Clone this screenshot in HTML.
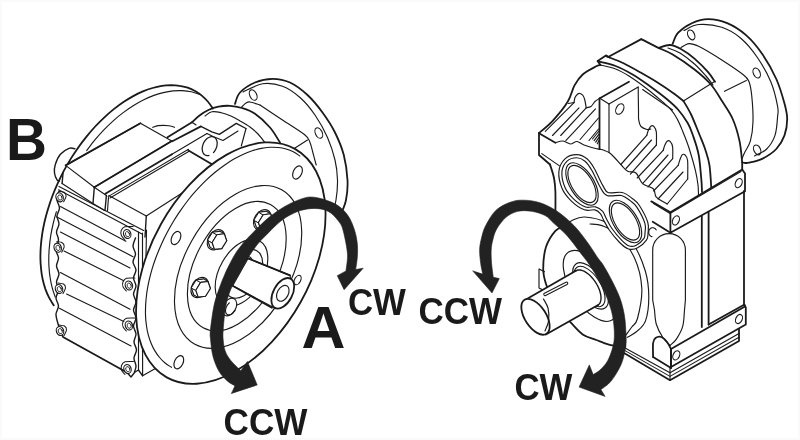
<!DOCTYPE html>
<html><head><meta charset="utf-8"><title>Rotation direction CW / CCW</title>
<style>
html,body{margin:0;padding:0;background:#fff;}
body{width:800px;height:440px;overflow:hidden;}
svg{display:block;will-change:transform;}
svg text{font-family:"Liberation Sans",Arial,Helvetica,sans-serif;font-weight:bold;fill:#1a1a1a;}
svg path,svg ellipse{stroke-linecap:round;stroke-linejoin:round;}
</style></head>
<body>
<svg width="800" height="440" viewBox="0 0 800 440">
<rect x="0" y="0" width="800" height="440" fill="#ffffff"/>
<rect x="1" y="1" width="798" height="438" fill="none" stroke="#fafafa" stroke-width="2"/>
<path d="M74.9 148.8C73.9 148.7 71.4 147.4 69 148.3C66.6 149.2 62.7 151.6 60.4 154.3C58.1 157 56.3 161.4 55.3 164.5C54.3 167.6 54.2 170.4 54.5 173C54.8 175.6 56.2 178.5 57 179.8C57.8 181.1 59.1 180.8 59.5 181" fill="none" stroke="#1a1a1a" stroke-width="1.4" />
<path d="M53.7 305.3C53 304 50.5 300.4 49.1 297.7C47.7 295 46.5 292.1 45.4 289.1C44.4 286.1 43.5 282.9 42.7 279.5C42 276.2 41.4 272.7 41.1 269.1C40.7 265.5 40.4 261.8 40.4 258C40.4 254.2 40.5 250.2 40.8 246.2C41.1 242.2 41.6 238.2 42.2 234C42.8 229.9 43.7 225.7 44.6 221.5C45.6 217.3 46.8 213 48.1 208.8C49.4 204.5 50.8 200.2 52.4 196C54 191.8 55.8 187.5 57.7 183.4C59.6 179.2 61.7 175 63.8 170.9C66 166.9 68.3 162.8 70.7 158.9C73.1 155 75.7 151.1 78.3 147.4C80.9 143.7 83.7 140.1 86.5 136.6C89.3 133.1 92.3 129.7 95.2 126.5C98.2 123.3 101.3 120.2 104.4 117.3C107.5 114.4 110.6 111.7 113.8 109.1C117 106.6 120.2 104.2 123.5 102C126.7 99.8 130 97.9 133.2 96.1C136.5 94.3 139.7 92.7 142.9 91.4C146.2 90 149.4 88.9 152.6 88C155.7 87.1 158.9 86.4 161.9 85.9C165 85.4 168.1 85.2 171 85.1C173.9 85.1 176.8 85.3 179.6 85.8C182.4 86.2 185.1 86.9 187.7 87.7C190.3 88.6 192.7 89.7 195.1 91C197.5 92.4 199.7 93.9 201.8 95.6C203.9 97.4 205.9 99.3 207.8 101.5C209.6 103.6 212 107.3 212.8 108.5" fill="none" stroke="#1a1a1a" stroke-width="1.8" />
<path d="M86.7 150.6C88.1 148.8 92.2 143.2 95.1 139.7C98 136.3 101 132.9 104.1 129.7C107.1 126.5 110.3 123.5 113.5 120.6C116.7 117.7 119.9 115 123.2 112.6C126.5 110.1 129.8 107.8 133.2 105.7C136.5 103.6 139.9 101.7 143.3 100C146.6 98.3 150 96.8 153.3 95.6C156.7 94.4 160 93.4 163.3 92.6C166.6 91.8 169.8 91.2 173 90.9C176.2 90.6 179.3 90.5 182.4 90.6C185.4 90.8 188.4 91.2 191.3 91.8C194.1 92.4 198.2 93.9 199.6 94.3" fill="none" stroke="#1a1a1a" stroke-width="1.15" />
<path d="M55.2 297C54.7 295.5 53.1 291.2 52.3 288.2C51.5 285.1 50.8 281.9 50.3 278.6C49.7 275.3 49.3 271.9 49.1 268.4C48.8 265 48.7 261.4 48.8 257.7C48.8 254.1 49 250.4 49.4 246.6C49.7 242.8 50.2 239 50.8 235.1C51.5 231.3 52.3 227.4 53.2 223.5C54.1 219.6 55.8 213.7 56.4 211.7" fill="none" stroke="#1a1a1a" stroke-width="1.15" />
<path d="M235 103.8C235.8 101.9 236.7 96 240 92.5C243.3 89 249.6 84.8 255 82.5C260.4 80.2 266.7 78.8 272.5 78.8C278.3 78.8 284.2 79.8 290 82.5C295.8 85.2 302.1 90 307.5 95C312.9 100 317.9 106.2 322.5 112.5C327.1 118.8 331.5 125.4 335 132.5C338.5 139.6 341.7 147.1 343.8 155C345.8 162.9 347.1 172.5 347.5 180C347.9 187.5 347.1 194.3 346 200C344.9 205.7 341.8 211.7 341 214" fill="none" stroke="#1a1a1a" stroke-width="1.8" />
<path d="M243 92C246.2 90.6 255.9 84.7 262.5 83.8C269.1 82.8 276.2 84 282.5 86.2C288.8 88.5 294.6 92.7 300 97.5C305.4 102.3 310.4 108.3 315 115C319.6 121.7 324.2 130 327.5 137.5C330.8 145 333.3 152.9 335 160C336.7 167.1 337.3 173.3 337.5 180C337.7 186.7 336.8 194.7 336 200C335.2 205.3 333.5 210 333 212" fill="none" stroke="#1a1a1a" stroke-width="1.15" />
<ellipse cx="253.2" cy="95" rx="3.4" ry="5.6" transform="rotate(-25 253.2 95)" fill="none" stroke="#1a1a1a" stroke-width="1.15"/>
<ellipse cx="318.8" cy="133" rx="3.4" ry="5.6" transform="rotate(-25 318.8 133)" fill="none" stroke="#1a1a1a" stroke-width="1.15"/>
<ellipse cx="297.5" cy="172.5" rx="3.4" ry="5.6" transform="rotate(-25 297.5 172.5)" fill="none" stroke="#1a1a1a" stroke-width="1.15"/>
<path d="M241.2 107.5C242 106.8 244.5 103.9 246 103C247.5 102.1 247.7 101.7 250 102C252.3 102.3 258.3 104.5 260 105" fill="none" stroke="#1a1a1a" stroke-width="1.15" />
<path d="M260 105C263.8 107.5 275 115 282.5 120C290 125 300.4 131.2 305 135C309.6 138.8 308.7 139.5 310 142.5C311.3 145.5 312 149.2 313 153C314 156.8 315.7 163 316.2 165" fill="none" stroke="#1a1a1a" stroke-width="1.15" />
<path d="M293.8 148.8L307.5 140" fill="none" stroke="#1a1a1a" stroke-width="1.15" />
<path d="M192 122.3C193.2 121.2 196.8 117.5 199.5 115.5C202.2 113.5 205.2 111.5 208.4 110C211.6 108.5 215 107.3 218.6 106.6C222.2 105.9 226.1 105.6 230 105.8C233.9 106 237.8 106.7 242 108C246.2 109.3 250.3 110.5 255 113.8C259.7 117 265.8 122.7 270 127.5C274.2 132.3 278.3 140 280 142.5" fill="none" stroke="#1a1a1a" stroke-width="1.8" />
<path d="M205 116C206.1 115.3 209.1 112.3 211.8 111.8C214.5 111.2 218.1 112 221.3 112.7C224.5 113.4 227.8 114.7 230.9 116.1C234 117.5 236.8 119.1 240 120.9C243.2 122.7 247 124.8 250 127C253 129.2 255.3 131.2 258 134C260.7 136.8 264.7 142.3 266 144" fill="none" stroke="#1a1a1a" stroke-width="1.15" />
<path d="M167.5 137.3L192 122.3" fill="none" stroke="#1a1a1a" stroke-width="1.8" />
<path d="M192 122.3L196.1 125" fill="none" stroke="#1a1a1a" stroke-width="1.15" />
<path d="M172.3 141.3L200.9 126.4" fill="none" stroke="#1a1a1a" stroke-width="1.8" />
<path d="M200.9 126.4L211.8 131.8L219.3 134.3L236.3 123.4L246 128.5" fill="none" stroke="#1a1a1a" stroke-width="1.4" />
<path d="M207 133.5L213 136.5L223 140.5L238 131" fill="none" stroke="#1a1a1a" stroke-width="1.15" />
<path d="M246 128.5L241.3 146" fill="none" stroke="#1a1a1a" stroke-width="1.15" />
<path d="M152.7 127.3C153.6 127 156.2 125.9 158 125.6C159.8 125.3 161.8 125.3 163.6 125.3C165.4 125.3 167.2 125.5 169 125.8C170.8 126.1 173.6 127 174.5 127.3" fill="none" stroke="#1a1a1a" stroke-width="1.15" />
<path d="M65.6 165.4L140.4 123.2L171.8 140.9L94.3 187.2Z" fill="#ffffff" stroke="#1a1a1a" stroke-width="1.15" />
<path d="M65.6 165.4L140.4 123.2" fill="none" stroke="#1a1a1a" stroke-width="1.8" />
<path d="M171.8 140.9L94.3 187.2" fill="none" stroke="#1a1a1a" stroke-width="1.8" />
<path d="M94.3 187.2L93 203.5" fill="none" stroke="#1a1a1a" stroke-width="1.4" />
<path d="M63 173.4L62.1 183.5" fill="none" stroke="#1a1a1a" stroke-width="1.4" />
<path d="M62.1 183.5L93 203.5L104.5 210.5" fill="none" stroke="#1a1a1a" stroke-width="1.15" />
<path d="M94.3 187.2L106.4 195.4" fill="none" stroke="#1a1a1a" stroke-width="1.15" />
<path d="M106.4 195.4L105 210.5" fill="none" stroke="#1a1a1a" stroke-width="1.4" />
<path d="M105.3 193.7L172 154.2" fill="none" stroke="#1a1a1a" stroke-width="1.8" />
<path d="M172 154.2L207 133.5" fill="none" stroke="#1a1a1a" stroke-width="1.15" />
<path d="M108 196.6L188.5 149.2" fill="none" stroke="#1a1a1a" stroke-width="1.035" />
<path d="M110 198L189.5 151" fill="none" stroke="#1a1a1a" stroke-width="1.035" />
<path d="M108.5 197.5L107.5 210.5" fill="none" stroke="#1a1a1a" stroke-width="1.15" />
<path d="M188.5 150.5L211.5 164.1" fill="none" stroke="#1a1a1a" stroke-width="1.8" />
<path d="M108.8 195.6L146.3 216" fill="none" stroke="#1a1a1a" stroke-width="1.15" />
<path d="M146.3 216L182.5 192.7" fill="none" stroke="#1a1a1a" stroke-width="1.15" />
<path d="M146.3 216L145 237" fill="none" stroke="#1a1a1a" stroke-width="1.4" />
<path d="M208.9 155.5C208.7 155.5 208.3 155.6 208.1 155.6C207.8 155.6 207.6 155.6 207.3 155.6C207.1 155.6 206.8 155.6 206.6 155.5C206.3 155.5 206.1 155.4 205.9 155.3C205.6 155.2 205.4 155.1 205.2 155C205 154.9 204.8 154.8 204.6 154.6C204.4 154.5 204.2 154.3 204.1 154.1C203.9 154 203.7 153.8 203.6 153.6C203.4 153.3 203.3 153.1 203.1 152.9C203 152.7 202.9 152.4 202.8 152.1C202.7 151.9 202.6 151.6 202.5 151.3C202.5 151 202.4 150.8 202.4 150.5C202.3 150.2 202.3 149.8 202.2 149.5C202.2 149.2 202.2 148.9 202.2 148.6C202.2 148.2 202.3 147.9 202.3 147.6C202.3 147.3 202.4 146.9 202.4 146.6C202.5 146.2 202.6 145.9 202.7 145.6C202.8 145.2 202.9 144.9 203 144.6C203.1 144.2 203.2 143.9 203.4 143.6C203.5 143.3 203.7 142.9 203.8 142.6C204 142.3 204.2 142 204.4 141.7C204.5 141.4 204.7 141.1 204.9 140.8C205.2 140.5 205.4 140.3 205.6 140C205.8 139.8 206 139.5 206.3 139.3C206.5 139 206.8 138.8 207 138.6C207.2 138.4 207.5 138.2 207.8 138C208 137.9 208.3 137.7 208.5 137.5C208.8 137.4 209.1 137.3 209.3 137.2C209.6 137 209.8 136.9 210.1 136.9C210.4 136.8 210.6 136.7 210.9 136.7C211.2 136.6 211.4 136.6 211.7 136.6C211.9 136.6 212.2 136.6 212.4 136.6C212.7 136.7 212.9 136.7 213.2 136.8C213.4 136.8 213.6 136.9 213.8 137C214.1 137.1 214.3 137.2 214.5 137.3C214.7 137.5 214.9 137.6 215.1 137.8C215.2 137.9 215.4 138.1 215.6 138.3C215.7 138.5 215.9 138.7 216 138.9C216.2 139.2 216.3 139.4 216.4 139.6C216.5 139.9 216.6 140.2 216.7 140.4C216.8 140.7 216.9 141 217 141.3C217 141.6 217.1 141.9 217.1 142.2C217.1 142.5 217.2 142.8 217.2 143.1C217.2 143.4 217.2 143.8 217.1 144.1C217.1 144.4 217.1 144.7 217 145.1C217 145.4 216.9 145.8 216.9 146.1C216.8 146.4 216.7 146.8 216.6 147.1C216.5 147.4 216.4 147.8 216.2 148.1C216.1 148.4 216 148.8 215.8 149.1C215.7 149.4 215.5 149.7 215.3 150C215.2 150.3 215 150.6 214.8 150.9C214.6 151.2 214.4 151.5 214.2 151.8C213.9 152 213.6 152.4 213.5 152.5" fill="none" stroke="#1a1a1a" stroke-width="1.265" />
<path d="M59 186.4L143.6 230.5" fill="none" stroke="#1a1a1a" stroke-width="1.15" />
<path d="M58.5 189.8L142 234" fill="none" stroke="#1a1a1a" stroke-width="1.15" />
<path d="M60.4 206.6L125.9 241.3" fill="none" stroke="#1a1a1a" stroke-width="1.15" />
<path d="M56.4 216.8L133 256.7" fill="none" stroke="#1a1a1a" stroke-width="1.15" />
<path d="M60.4 232.1L130 267.9" fill="none" stroke="#1a1a1a" stroke-width="1.15" />
<path d="M64 251L123.8 280.7" fill="none" stroke="#1a1a1a" stroke-width="1.15" />
<path d="M60.4 272.5L130 309.3" fill="none" stroke="#1a1a1a" stroke-width="1.15" />
<path d="M66.6 294L123.8 321.5" fill="none" stroke="#1a1a1a" stroke-width="1.15" />
<path d="M59.4 308.3L131 346" fill="none" stroke="#1a1a1a" stroke-width="1.15" />
<path d="M58.5 192C58.2 193.3 56.8 197.3 57 200C57.2 202.7 59.5 205.3 59.5 208C59.5 210.7 57.1 213.3 57 216C56.9 218.7 59.1 221.3 59 224C58.9 226.7 56.6 229.3 56.5 232C56.4 234.7 58.6 237 58.5 240C58.4 243 56 247 56 250C56 253 58.4 255.3 58.5 258C58.6 260.7 56.4 263.3 56.5 266C56.6 268.7 59 271.3 59 274C59 276.7 56.6 279.3 56.5 282C56.4 284.7 58.6 287.3 58.5 290C58.4 292.7 56 295.3 56 298C56 300.7 58.5 303.3 58.5 306C58.5 308.7 56.2 311.3 56 314C55.8 316.7 56.8 319.3 57.5 322C58.2 324.7 59.6 328.7 60 330" fill="none" stroke="#1a1a1a" stroke-width="1.4" />
<path d="M135.5 238C135.1 239.3 133 243.3 133 246C133 248.7 135.5 251.3 135.5 254C135.5 256.7 132.9 259.3 133 262C133.1 264.7 135.9 267.3 136 270C136.1 272.7 133.5 275.3 133.5 278C133.5 280.7 136 283.3 136 286C136 288.7 133.5 291.3 133.5 294C133.5 296.7 136 299.3 136 302C136 304.7 133.5 307.3 133.5 310C133.5 312.7 136 315.3 136 318C136 320.7 133.5 323.3 133.5 326C133.5 328.7 135.9 331.3 136 334C136.1 336.7 133.9 339.3 134 342C134.1 344.7 136.5 347.3 136.5 350C136.5 352.7 134.1 355.3 134 358C133.9 360.7 135.9 363.7 136 366C136.1 368.3 134.8 371 134.5 372" fill="none" stroke="#1a1a1a" stroke-width="1.4" />
<path d="M60 330L63 337L127 372.5" fill="none" stroke="#1a1a1a" stroke-width="1.8" />
<path d="M138.5 232L138.5 370" fill="none" stroke="#1a1a1a" stroke-width="1.15" />
<path d="M142.5 233L142.5 352" fill="none" stroke="#1a1a1a" stroke-width="1.15" />
<path d="M146.5 230L146 256" fill="none" stroke="#1a1a1a" stroke-width="1.15" />
<path d="M142.6 350.2L142.6 375.8L154.5 369" fill="none" stroke="#1a1a1a" stroke-width="1.15" />
<path d="M127 372.5L131 377L135 372L138.5 370L142.6 375.8" fill="none" stroke="#1a1a1a" stroke-width="1.4" />
<path d="M58.6 191.3C59.5 191.5 62.8 191.5 64.1 192.3C65.3 193.1 66.2 194.7 66.1 196.3C66 197.9 64 200.9 63.6 201.8" fill="none" stroke="#1a1a1a" stroke-width="1.035" />
<ellipse cx="59.6" cy="197.3" rx="3.6" ry="4.6" transform="rotate(-20 59.6 197.3)" fill="#ffffff" stroke="#1a1a1a" stroke-width="1.15"/>
<ellipse cx="59.9" cy="197.5" rx="2" ry="2.7" transform="rotate(-20 59.9 197.5)" fill="none" stroke="#1a1a1a" stroke-width="0.8049999999999999"/>
<path d="M56.7 241.7C57.6 241.9 61 241.9 62.2 242.7C63.5 243.5 64.3 245.1 64.2 246.7C64.1 248.3 62.1 251.3 61.7 252.2" fill="none" stroke="#1a1a1a" stroke-width="1.035" />
<ellipse cx="57.7" cy="247.7" rx="3.6" ry="4.6" transform="rotate(-20 57.7 247.7)" fill="#ffffff" stroke="#1a1a1a" stroke-width="1.15"/>
<ellipse cx="58" cy="247.9" rx="2" ry="2.7" transform="rotate(-20 58 247.9)" fill="none" stroke="#1a1a1a" stroke-width="0.8049999999999999"/>
<path d="M58 283C58.9 283.2 62.2 283.2 63.5 284C64.8 284.8 65.6 286.4 65.5 288C65.4 289.6 63.4 292.6 63 293.5" fill="none" stroke="#1a1a1a" stroke-width="1.035" />
<ellipse cx="59" cy="289" rx="3.6" ry="4.6" transform="rotate(-20 59 289)" fill="#ffffff" stroke="#1a1a1a" stroke-width="1.15"/>
<ellipse cx="59.3" cy="289.2" rx="2" ry="2.7" transform="rotate(-20 59.3 289.2)" fill="none" stroke="#1a1a1a" stroke-width="0.8049999999999999"/>
<path d="M59 325C59.9 325.2 63.2 325.2 64.5 326C65.8 326.8 66.6 328.4 66.5 330C66.4 331.6 64.4 334.6 64 335.5" fill="none" stroke="#1a1a1a" stroke-width="1.035" />
<ellipse cx="60" cy="331" rx="3.6" ry="4.6" transform="rotate(-20 60 331)" fill="#ffffff" stroke="#1a1a1a" stroke-width="1.15"/>
<ellipse cx="60.3" cy="331.2" rx="2" ry="2.7" transform="rotate(-20 60.3 331.2)" fill="none" stroke="#1a1a1a" stroke-width="0.8049999999999999"/>
<path d="M133.2 226.5C131.8 226.6 126.7 226.1 124.7 226.8C122.7 227.5 121.8 229.1 121.2 230.5C120.7 231.9 120.8 234 121.4 235.5C122 237 124.2 238.8 124.7 239.5" fill="none" stroke="#1a1a1a" stroke-width="1.035" />
<ellipse cx="127.2" cy="234" rx="3.6" ry="4.6" transform="rotate(-20 127.2 234)" fill="#ffffff" stroke="#1a1a1a" stroke-width="1.15"/>
<ellipse cx="127.5" cy="234.2" rx="2" ry="2.7" transform="rotate(-20 127.5 234.2)" fill="none" stroke="#1a1a1a" stroke-width="0.8049999999999999"/>
<path d="M134.9 278C133.5 278.1 128.4 277.6 126.4 278.3C124.4 279 123.5 280.6 122.9 282C122.4 283.4 122.5 285.5 123.1 287C123.7 288.5 125.9 290.3 126.4 291" fill="none" stroke="#1a1a1a" stroke-width="1.035" />
<ellipse cx="128.9" cy="285.5" rx="3.6" ry="4.6" transform="rotate(-20 128.9 285.5)" fill="#ffffff" stroke="#1a1a1a" stroke-width="1.15"/>
<ellipse cx="129.2" cy="285.7" rx="2" ry="2.7" transform="rotate(-20 129.2 285.7)" fill="none" stroke="#1a1a1a" stroke-width="0.8049999999999999"/>
<path d="M134.9 318C133.5 318.1 128.4 317.6 126.4 318.3C124.4 319 123.5 320.6 122.9 322C122.4 323.4 122.5 325.5 123.1 327C123.7 328.5 125.9 330.3 126.4 331" fill="none" stroke="#1a1a1a" stroke-width="1.035" />
<ellipse cx="128.9" cy="325.5" rx="3.6" ry="4.6" transform="rotate(-20 128.9 325.5)" fill="#ffffff" stroke="#1a1a1a" stroke-width="1.15"/>
<ellipse cx="129.2" cy="325.7" rx="2" ry="2.7" transform="rotate(-20 129.2 325.7)" fill="none" stroke="#1a1a1a" stroke-width="0.8049999999999999"/>
<path d="M133.5 361.5C132.1 361.6 127 361.1 125 361.8C123 362.5 122 364.1 121.5 365.5C121 366.9 121.1 369 121.7 370.5C122.3 372 124.5 373.8 125 374.5" fill="none" stroke="#1a1a1a" stroke-width="1.035" />
<ellipse cx="127.5" cy="369" rx="3.6" ry="4.6" transform="rotate(-20 127.5 369)" fill="#ffffff" stroke="#1a1a1a" stroke-width="1.15"/>
<ellipse cx="127.8" cy="369.2" rx="2" ry="2.7" transform="rotate(-20 127.8 369.2)" fill="none" stroke="#1a1a1a" stroke-width="0.8049999999999999"/>
<ellipse cx="230.8" cy="263.1" rx="131" ry="80" transform="rotate(-60.7 230.8 263.1)" fill="#ffffff" stroke="#1a1a1a" stroke-width="1.8"/>
<path d="M171.4 367.3C170.4 366.6 167.1 364.6 165.1 363C163.1 361.4 161.3 359.6 159.6 357.5C157.9 355.5 156.3 353.3 154.9 350.9C153.4 348.6 152.2 346 151.1 343.3C150 340.6 149 337.7 148.2 334.7C147.4 331.7 146.8 328.5 146.4 325.2C145.9 321.9 145.6 318.5 145.5 315C145.4 311.4 145.5 307.8 145.7 304.1C145.9 300.4 146.3 296.6 146.8 292.7C147.4 288.8 148.1 284.9 149 280.9C149.9 277 150.9 272.9 152.1 268.9C153.3 264.9 154.7 260.8 156.2 256.8C157.7 252.8 159.4 248.7 161.2 244.7C163 240.7 164.9 236.7 167 232.8C169 228.9 171.2 225 173.5 221.2C175.8 217.5 178.2 213.7 180.8 210.1C183.3 206.5 185.9 202.9 188.6 199.5C191.3 196.1 194.1 192.8 197 189.7C199.8 186.5 202.8 183.5 205.7 180.6C208.7 177.7 211.8 175 214.8 172.5C217.9 169.9 221 167.5 224.1 165.4C227.3 163.2 230.4 161.1 233.5 159.3C236.7 157.5 239.8 155.9 242.9 154.5C246.1 153 249.2 151.8 252.2 150.8C255.3 149.8 258.3 149 261.3 148.4C264.3 147.8 267.2 147.5 270 147.3C272.9 147.2 275.7 147.3 278.3 147.5C281 147.8 283.6 148.3 286.1 149C288.6 149.8 291 150.7 293.3 151.8C295.6 153 298.7 155.2 299.8 155.9" fill="none" stroke="#1a1a1a" stroke-width="1.15" />
<ellipse cx="238.1" cy="266.9" rx="88.6" ry="53.2" transform="rotate(-60.5 238.1 266.9)" fill="none" stroke="#1a1a1a" stroke-width="1.15"/>
<ellipse cx="236.8" cy="266.2" rx="70.2" ry="41.2" transform="rotate(-61.4 236.8 266.2)" fill="none" stroke="#1a1a1a" stroke-width="1.15"/>
<ellipse cx="176" cy="238" rx="4.3" ry="7" transform="rotate(25 176 238)" fill="none" stroke="#1a1a1a" stroke-width="1.15"/>
<ellipse cx="178.8" cy="362.2" rx="4.3" ry="7" transform="rotate(25 178.8 362.2)" fill="none" stroke="#1a1a1a" stroke-width="1.15"/>
<ellipse cx="297.5" cy="172.5" rx="4.3" ry="7" transform="rotate(25 297.5 172.5)" fill="none" stroke="#1a1a1a" stroke-width="1.15"/>
<ellipse cx="241.5" cy="272.7" rx="36.5" ry="21.9" transform="rotate(-60 241.5 272.7)" fill="none" stroke="#1a1a1a" stroke-width="1.15"/>
<ellipse cx="243.5" cy="273.8" rx="26.6" ry="16" transform="rotate(-60 243.5 273.8)" fill="none" stroke="#1a1a1a" stroke-width="1.15"/>
<ellipse cx="216" cy="239.8" rx="10.9" ry="7.8" transform="rotate(-58 216 239.8)" fill="#ffffff" stroke="#1a1a1a" stroke-width="1.15"/>
<path d="M219.9 231.4L222.3 238.3L217.5 246.1L210.1 247L207.7 240L212.6 232.2Z" fill="#ffffff" stroke="#1a1a1a" stroke-width="1.15" />
<path d="M219.9 231.4L222.3 238.3L226.7 240.8L224.3 233.8Z" fill="#ffffff" stroke="#1a1a1a" stroke-width="0.9774999999999999" />
<path d="M222.3 238.3L217.5 246.1L221.8 248.6L226.7 240.8Z" fill="#ffffff" stroke="#1a1a1a" stroke-width="0.9774999999999999" />
<path d="M217.5 246.1L210.1 247L214.5 249.4L221.8 248.6Z" fill="#ffffff" stroke="#1a1a1a" stroke-width="0.9774999999999999" />
<path d="M210.1 247L207.7 240L212.1 242.5L214.5 249.4Z" fill="#ffffff" stroke="#1a1a1a" stroke-width="0.9774999999999999" />
<path d="M207.7 240L212.6 232.2L216.9 234.7L212.1 242.5Z" fill="#ffffff" stroke="#1a1a1a" stroke-width="0.9774999999999999" />
<path d="M212.6 232.2L219.9 231.4L224.3 233.8L216.9 234.7Z" fill="#ffffff" stroke="#1a1a1a" stroke-width="0.9774999999999999" />
<path d="M224.3 233.8L226.7 240.8L221.8 248.6L214.5 249.4L212.1 242.5L216.9 234.7Z" fill="#ffffff" stroke="#1a1a1a" stroke-width="1.15" />
<ellipse cx="199.7" cy="287.5" rx="10.9" ry="7.8" transform="rotate(-58 199.7 287.5)" fill="#ffffff" stroke="#1a1a1a" stroke-width="1.15"/>
<path d="M203.6 279.1L206 286L201.2 293.8L193.8 294.7L191.4 287.7L196.3 279.9Z" fill="#ffffff" stroke="#1a1a1a" stroke-width="1.15" />
<path d="M203.6 279.1L206 286L210.4 288.5L208 281.5Z" fill="#ffffff" stroke="#1a1a1a" stroke-width="0.9774999999999999" />
<path d="M206 286L201.2 293.8L205.5 296.3L210.4 288.5Z" fill="#ffffff" stroke="#1a1a1a" stroke-width="0.9774999999999999" />
<path d="M201.2 293.8L193.8 294.7L198.2 297.1L205.5 296.3Z" fill="#ffffff" stroke="#1a1a1a" stroke-width="0.9774999999999999" />
<path d="M193.8 294.7L191.4 287.7L195.8 290.2L198.2 297.1Z" fill="#ffffff" stroke="#1a1a1a" stroke-width="0.9774999999999999" />
<path d="M191.4 287.7L196.3 279.9L200.6 282.4L195.8 290.2Z" fill="#ffffff" stroke="#1a1a1a" stroke-width="0.9774999999999999" />
<path d="M196.3 279.9L203.6 279.1L208 281.5L200.6 282.4Z" fill="#ffffff" stroke="#1a1a1a" stroke-width="0.9774999999999999" />
<path d="M208 281.5L210.4 288.5L205.5 296.3L198.2 297.1L195.8 290.2L200.6 282.4Z" fill="#ffffff" stroke="#1a1a1a" stroke-width="1.15" />
<ellipse cx="262.3" cy="219.8" rx="10.9" ry="7.8" transform="rotate(-58 262.3 219.8)" fill="#ffffff" stroke="#1a1a1a" stroke-width="1.15"/>
<path d="M266.2 211.4L268.6 218.3L263.8 226.1L256.4 227L254 220L258.9 212.2Z" fill="#ffffff" stroke="#1a1a1a" stroke-width="1.15" />
<path d="M266.2 211.4L268.6 218.3L273 220.8L270.6 213.8Z" fill="#ffffff" stroke="#1a1a1a" stroke-width="0.9774999999999999" />
<path d="M268.6 218.3L263.8 226.1L268.1 228.6L273 220.8Z" fill="#ffffff" stroke="#1a1a1a" stroke-width="0.9774999999999999" />
<path d="M263.8 226.1L256.4 227L260.8 229.4L268.1 228.6Z" fill="#ffffff" stroke="#1a1a1a" stroke-width="0.9774999999999999" />
<path d="M256.4 227L254 220L258.4 222.5L260.8 229.4Z" fill="#ffffff" stroke="#1a1a1a" stroke-width="0.9774999999999999" />
<path d="M254 220L258.9 212.2L263.2 214.7L258.4 222.5Z" fill="#ffffff" stroke="#1a1a1a" stroke-width="0.9774999999999999" />
<path d="M258.9 212.2L266.2 211.4L270.6 213.8L263.2 214.7Z" fill="#ffffff" stroke="#1a1a1a" stroke-width="0.9774999999999999" />
<path d="M270.6 213.8L273 220.8L268.1 228.6L260.8 229.4L258.4 222.5L263.2 214.7Z" fill="#ffffff" stroke="#1a1a1a" stroke-width="1.15" />
<ellipse cx="229.5" cy="307" rx="9.5" ry="6.3" transform="rotate(-60 229.5 307)" fill="#ffffff" stroke="#1a1a1a" stroke-width="1.15"/>
<path d="M235 310.3C234.9 310.4 234.7 310.7 234.6 311C234.4 311.2 234.3 311.4 234.1 311.6C234 311.8 233.8 312 233.6 312.2C233.5 312.4 233.3 312.6 233.1 312.7C232.9 312.9 232.8 313.1 232.6 313.2C232.4 313.4 232.2 313.5 232 313.7C231.8 313.8 231.6 313.9 231.5 314.1C231.3 314.2 231.1 314.3 230.9 314.4C230.7 314.5 230.5 314.5 230.3 314.6C230.1 314.7 229.9 314.7 229.7 314.8C229.6 314.8 229.4 314.9 229.2 314.9C229 314.9 228.8 314.9 228.7 314.9C228.5 314.9 228.3 314.9 228.2 314.8C228 314.8 227.8 314.8 227.7 314.7C227.5 314.6 227.4 314.6 227.2 314.5C227.1 314.4 227 314.3 226.9 314.2C226.7 314.1 226.6 314 226.5 313.9C226.4 313.7 226.3 313.6 226.2 313.5C226.1 313.3 226 313.2 226 313C225.9 312.8 225.8 312.7 225.8 312.5C225.7 312.3 225.7 312.1 225.6 311.9C225.6 311.7 225.6 311.5 225.5 311.3C225.5 311.1 225.5 310.9 225.5 310.6C225.5 310.4 225.5 310.2 225.6 310C225.6 309.7 225.6 309.5 225.7 309.3C225.7 309 225.8 308.8 225.8 308.5C225.9 308.3 226 308.1 226.1 307.8C226.1 307.6 226.2 307.3 226.3 307.1C226.4 306.9 226.5 306.6 226.6 306.4C226.8 306.2 226.9 305.9 227 305.7C227.1 305.5 227.3 305.3 227.4 305C227.6 304.8 227.7 304.6 227.9 304.4C228 304.2 228.2 304 228.4 303.8C228.5 303.6 228.7 303.4 228.9 303.3C229.1 303.1 229.3 302.8 229.4 302.8" fill="none" stroke="#1a1a1a" stroke-width="1.15" />
<ellipse cx="241.3" cy="270.9" rx="16.2" ry="9.7" transform="rotate(-60 241.3 270.9)" fill="#ffffff" stroke="#1a1a1a" stroke-width="1.15"/>
<path d="M248 258.4L290 275.4L293 292L276 308.7L232.6 285.7Z" fill="#ffffff" stroke="#1a1a1a" stroke-width="1.15" />
<path d="M248 258.4L290 275.4" fill="none" stroke="#1a1a1a" stroke-width="1.8" />
<path d="M232.6 285.7L271.8 307.8" fill="none" stroke="#1a1a1a" stroke-width="1.8" />
<ellipse cx="282.8" cy="293.3" rx="9.5" ry="16.5" transform="rotate(28 282.8 293.3)" fill="#ffffff" stroke="#1a1a1a" stroke-width="1.8"/>
<ellipse cx="282.8" cy="293.3" rx="5.5" ry="8.5" transform="rotate(28 282.8 293.3)" fill="none" stroke="#1a1a1a" stroke-width="1.15"/>
<ellipse cx="297.6" cy="280" rx="3" ry="5" transform="rotate(28 297.6 280)" fill="none" stroke="#1a1a1a" stroke-width="1.15"/>
<path d="M672.7 43.6C673.6 41.8 675 36.1 678.2 32.7C681.4 29.3 686.8 25.5 691.8 23.2C696.8 20.9 702.2 19.1 708.1 19.1C714 19.1 720.8 20.5 727.2 23.2C733.6 25.9 740.4 30.2 746.3 35.4C752.2 40.6 757.6 47.2 762.6 54.5C767.6 61.8 772.6 70.8 776.3 79C779.9 87.2 782.7 96.9 784.5 103.6C786.3 110.3 787.2 113.7 787.2 119C787.2 124.3 786.3 130.4 784.5 135.4C782.7 140.4 779.9 145.1 776.3 149C772.6 152.9 767.1 156.3 762.6 158.6C758.1 160.9 752.2 162 749 162.7C745.8 163.4 744.5 162.7 743.6 162.7" fill="none" stroke="#1a1a1a" stroke-width="1.8" />
<path d="M684 30.5C686.4 29.5 692.3 25 698.6 24.5C704.9 24 714.8 25 721.8 27.3C728.8 29.6 734.9 33.2 740.8 38.2C746.7 43.2 752.2 49.9 757.2 57.2C762.2 64.5 767.4 73.6 770.8 81.8C774.2 90 776.5 100.5 777.6 106.3C778.7 112.1 778 111.6 777.6 116.4C777.2 121.2 776.8 130 775 135.4C773.2 140.8 770.1 145.6 766.7 149C763.3 152.4 756.5 154.8 754.5 155.9" fill="none" stroke="#1a1a1a" stroke-width="1.15" />
<ellipse cx="691.2" cy="34.9" rx="3.3" ry="5.2" transform="rotate(-25 691.2 34.9)" fill="none" stroke="#1a1a1a" stroke-width="1.15"/>
<ellipse cx="756.7" cy="73" rx="3.3" ry="5.2" transform="rotate(-25 756.7 73)" fill="none" stroke="#1a1a1a" stroke-width="1.15"/>
<ellipse cx="757.2" cy="149.9" rx="3.3" ry="5.2" transform="rotate(-25 757.2 149.9)" fill="none" stroke="#1a1a1a" stroke-width="1.15"/>
<path d="M680.9 47.7C682.2 47 686 43.8 689 43.6C692 43.4 693.1 43.6 698.6 46.3C704.1 49 714.3 55.2 721.8 60C729.3 64.8 739.1 71.4 743.6 75C748.1 78.6 747.6 78.4 749 81.8C750.4 85.2 751 88.7 751.7 95.4C752.4 102.1 753.2 114.2 753 121.8C752.8 129.4 751.7 135.9 750.4 140.9C749.1 145.9 746.4 148.9 745 151.8C743.6 154.8 742.5 157.5 742 158.6" fill="none" stroke="#1a1a1a" stroke-width="1.15" />
<path d="M724.5 91.3L746.3 80.4" fill="none" stroke="#1a1a1a" stroke-width="1.15" />
<path d="M659 47.7C660.8 47.2 666.4 44.8 670 45C673.6 45.2 676.8 46.7 680.9 49C685 51.3 690 54.7 694.5 58.6C699 62.5 704.7 68.3 708.1 72.2C711.5 76.1 713.9 80.2 715 81.8" fill="none" stroke="#1a1a1a" stroke-width="1.8" />
<path d="M668 48C670 48.8 675.6 50.3 680 53C684.4 55.7 690.2 60.2 694.5 64C698.8 67.8 702.9 72.5 706 76C709.1 79.5 711.8 83.5 713 85" fill="none" stroke="#1a1a1a" stroke-width="1.15" />
<path d="M641.3 39.1C643.8 40.4 651.2 44.3 656.4 46.9C661.6 49.5 666.4 50.7 672.7 54.5C679.1 58.3 688.1 64.5 694.5 69.5C700.9 74.5 706.4 79.3 710.9 84.5C715.4 89.7 718.2 95 721.8 100.8C725.4 106.5 729.8 112.3 732.7 119C735.7 125.7 737.9 133.6 739.5 140.9C741.1 148.2 741.8 159.1 742.2 162.7" fill="none" stroke="#1a1a1a" stroke-width="1.8" />
<path d="M608.6 56.8L641.3 39.1" fill="none" stroke="#1a1a1a" stroke-width="1.8" />
<path d="M683.4 100.9L715 81.3" fill="none" stroke="#1a1a1a" stroke-width="1.15" />
<path d="M683.4 100.9C684.7 103.2 688.4 108.8 691.1 114.5C693.8 120.2 697.2 129.1 699.6 135C702 140.9 703.8 144.9 705.4 150C707 155.1 708.5 158.7 709.5 165.4C710.5 172.1 711.1 185.9 711.4 190" fill="none" stroke="#1a1a1a" stroke-width="1.8" />
<path d="M606.2 56.2C609.2 57.4 618.2 60.7 624 63.5C629.8 66.3 635.4 69.6 641 72.8C646.6 76 651.9 79 657.5 82.5C663.1 86 670.2 90.9 674.5 94C678.8 97.1 681.9 99.8 683.4 100.9" fill="none" stroke="#1a1a1a" stroke-width="1.8" />
<path d="M597.7 61.3C600.7 62.1 609.8 63.8 615.6 66C621.4 68.2 626.9 71.2 632.6 74.5C638.3 77.8 643.9 81.9 649.6 86C655.3 90.1 662 95.1 666.7 99C671.4 102.9 674.5 105.5 678 109.5C681.5 113.5 685.2 118.8 687.7 123C690.2 127.2 691 129.8 692.8 135C694.6 140.2 697.2 147.2 698.6 154.5C700 161.8 700.7 172.8 701.3 179C701.9 185.2 701.9 189.8 702 192" fill="none" stroke="#1a1a1a" stroke-width="1.8" />
<path d="M600.4 65C602.8 65.6 610.2 67 615 68.8C619.8 70.6 624.4 73.2 629 76C633.6 78.8 637.9 82 642.6 85.5C647.3 89 652.3 93 657 97C661.7 101 667.3 105.6 670.7 109.4C674.1 113.2 675.5 116 677.5 119.6C679.5 123.2 680.7 126.3 682.6 131C684.5 135.7 686.9 141.3 689 148C691.1 154.7 694 164.7 695.5 170.9C697 177.1 697.5 181 698 185C698.5 189 698.4 193.3 698.5 195" fill="none" stroke="#1a1a1a" stroke-width="1.15" />
<path d="M597.7 60.9L605.9 55.4L609.5 57.5" fill="none" stroke="#1a1a1a" stroke-width="1.8" />
<path d="M539 133C541.3 131 547.9 126 552.7 120.8C557.5 115.6 564.1 107.7 567.7 101.8C571.3 95.9 572 90 574.5 85.4C577 80.9 579.1 77.7 582.7 74.5C586.3 71.3 593.3 67.9 596.3 66.3C599.2 64.7 599.7 65.2 600.4 65" fill="none" stroke="#1a1a1a" stroke-width="1.8" />
<path d="M600.4 65L597.7 60.9" fill="none" stroke="#1a1a1a" stroke-width="1.8" />
<path d="M574 102.7L545.3 131.4" fill="none" stroke="#1a1a1a" stroke-width="1.15" />
<path d="M579 107.8L552.5 135.5" fill="none" stroke="#1a1a1a" stroke-width="1.15" />
<path d="M586.2 107.8L560.7 135.5" fill="none" stroke="#1a1a1a" stroke-width="1.15" />
<path d="M595.5 108.9L565.8 140.6" fill="none" stroke="#1a1a1a" stroke-width="1.15" />
<path d="M598.5 118L580.1 139.5" fill="none" stroke="#1a1a1a" stroke-width="1.15" />
<path d="M598.5 129L589 140.5" fill="none" stroke="#1a1a1a" stroke-width="1.15" />
<path d="M574 102.7C574.2 101.8 574.4 98.9 575 97.5C575.6 96.1 576.7 94.9 577.5 94.2C578.3 93.5 579.1 93.3 580 93.5C580.9 93.7 582.2 94.4 583 95.5C583.8 96.6 584.3 98 584.8 100C585.3 102 586 106.5 586.2 107.8" fill="none" stroke="#1a1a1a" stroke-width="1.15" />
<path d="M586.2 107.8C587 107.6 589.5 107.5 591 106.5C592.5 105.5 593.6 102.8 595 101.5C596.4 100.2 598.8 99 599.5 98.5" fill="none" stroke="#1a1a1a" stroke-width="1.15" />
<path d="M568.5 103.5L574 102.5" fill="none" stroke="#1a1a1a" stroke-width="1.15" />
<path d="M599 131L592.5 139" fill="none" stroke="#1a1a1a" stroke-width="1.15" />
<path d="M599 134.2L594.1 140.6" fill="none" stroke="#1a1a1a" stroke-width="1.15" />
<path d="M599 137.4L595.7 142.2" fill="none" stroke="#1a1a1a" stroke-width="1.15" />
<path d="M599 140.6L597.3 143.8" fill="none" stroke="#1a1a1a" stroke-width="1.15" />
<path d="M599.8 98.3L629 81.8" fill="none" stroke="#1a1a1a" stroke-width="1.8" />
<path d="M599.5 98.3L599.5 149" fill="none" stroke="#1a1a1a" stroke-width="1.8" />
<path d="M599.8 98.3L609 103.9" fill="none" stroke="#1a1a1a" stroke-width="1.15" />
<path d="M638.2 87C638.2 90.8 638.4 104.5 638.5 110C638.6 115.5 638.3 117 638.7 119.8C639.1 122.5 639.6 124.9 641 126.5C642.4 128.1 645.4 129.1 647 129.5C648.6 129.9 650.2 129.1 650.8 129" fill="none" stroke="#1a1a1a" stroke-width="1.15" />
<path d="M609 103.9L638.2 87" fill="none" stroke="#1a1a1a" stroke-width="1.15" />
<path d="M609 103.9L609 152.5" fill="none" stroke="#1a1a1a" stroke-width="1.15" />
<ellipse cx="619.8" cy="109" rx="3.6" ry="5.6" transform="rotate(28 619.8 109)" fill="none" stroke="#1a1a1a" stroke-width="1.15"/>
<path d="M642.6 89.5L672.6 110" fill="none" stroke="#1a1a1a" stroke-width="1.15" />
<path d="M539 133.2L555.4 142.7" fill="none" stroke="#1a1a1a" stroke-width="1.8" />
<path d="M539 133.2L539 155L550 164.5" fill="none" stroke="#1a1a1a" stroke-width="1.8" />
<path d="M550 164.5C550.7 166.8 553.1 173.4 554 178C554.9 182.6 555.2 185.6 555.4 191.8C555.6 198 555.4 211.1 555.4 215" fill="none" stroke="#1a1a1a" stroke-width="1.8" />
<path d="M555.4 142.7C556.7 142.4 560.5 140.8 563 141C565.5 141.2 568.1 143.9 570.4 144C572.7 144.1 574.7 141.3 577 141.5C579.3 141.7 581.2 143.9 584 145C586.8 146.1 590.9 147.2 593.6 148C596.3 148.8 599.3 149.2 600.4 149.5" fill="none" stroke="#1a1a1a" stroke-width="1.15" />
<path d="M541.8 153.6L559.5 165.9" fill="none" stroke="#1a1a1a" stroke-width="1.15" />
<path d="M599.5 149C600.2 149.2 602.4 149.7 604 150.3C605.6 150.9 607.2 151.3 609 152.5C610.8 153.7 612.5 155.5 614.5 157.5C616.5 159.5 618.6 162.2 620.8 164.5C623 166.8 625.2 169.9 627.7 171.3C630.2 172.7 633.5 170.9 636 173C638.5 175.1 639.7 180.9 642.6 183.6C645.5 186.3 651.2 186.7 653.5 189C655.8 191.3 654 194.7 656.3 197.2C658.6 199.7 665.4 202.9 667.2 204" fill="none" stroke="#1a1a1a" stroke-width="1.15" />
<path d="M646.8 135.4C647 134.6 647.6 131.9 648.3 130.4C649 128.9 649.9 126.9 650.8 126.2C651.7 125.5 652.9 125.5 653.8 126.4C654.7 127.4 655.9 128.8 656.3 131.9C656.7 135 656.4 142.8 656.4 145" fill="none" stroke="#1a1a1a" stroke-width="1.15" />
<path d="M663.2 150.4C663.5 149.6 664.1 146.9 664.7 145.4C665.4 143.9 666.2 141.9 667.1 141.2C668 140.5 669.2 140.5 670.1 141.4C671 142.3 672.2 144 672.6 146.9C673 149.8 672.7 156.7 672.7 158.6" fill="none" stroke="#1a1a1a" stroke-width="1.15" />
<path d="M678.2 165.4C678.5 164.6 679.1 162.2 679.7 160.4C680.4 158.6 681.2 155.7 682.1 154.8C683 153.9 684.2 154.1 685.1 155C686 155.9 687.2 156.5 687.6 160.5C688 164.5 687.7 175.9 687.7 179" fill="none" stroke="#1a1a1a" stroke-width="1.15" />
<path d="M646.8 135.4L620.8 164.5" fill="none" stroke="#1a1a1a" stroke-width="1.15" />
<path d="M651.5 140L626 168.5" fill="none" stroke="#1a1a1a" stroke-width="1.15" />
<path d="M656.4 145L630.4 174.1" fill="none" stroke="#1a1a1a" stroke-width="1.15" />
<path d="M663.2 150.4L637.2 178" fill="none" stroke="#1a1a1a" stroke-width="1.15" />
<path d="M668 155L642.6 183.6" fill="none" stroke="#1a1a1a" stroke-width="1.15" />
<path d="M672.7 158.6L648 187" fill="none" stroke="#1a1a1a" stroke-width="1.15" />
<path d="M678.2 165.4L653.5 191" fill="none" stroke="#1a1a1a" stroke-width="1.15" />
<path d="M683 172L658 199" fill="none" stroke="#1a1a1a" stroke-width="1.15" />
<path d="M687.7 179L667.2 204" fill="none" stroke="#1a1a1a" stroke-width="1.15" />
<path d="M563.6 226.8C562.2 227.5 558.4 227.5 555.4 230.9C552.4 234.3 547.9 241 545.9 247.3C543.9 253.7 543.2 262.9 543.2 269C543.2 275.1 544.5 279.2 546 284C547.5 288.8 549.7 293.5 552 298C554.3 302.5 556.9 307 560 311C563.1 315 566.6 318.3 570.4 322.2C574.2 326.1 578.4 331.5 582.7 334.5C587 337.5 592.1 338.4 596.3 340C600.5 341.6 604.8 343.4 608.1 344.4C611.4 345.4 614.7 345.7 616 346" fill="none" stroke="#1a1a1a" stroke-width="1.8" />
<path d="M590 224C592 224.3 597.5 223.9 602 225.6C606.5 227.3 611.8 228.8 617.2 234.2C622.6 239.6 630.4 249 634.5 258C638.6 267 641.3 278.1 641.8 288.2C642.3 298.3 639.2 312 637.5 318.5C635.8 325 633.8 324.2 631.8 327C629.8 329.8 626.5 334.1 625.5 335.5" fill="none" stroke="#1a1a1a" stroke-width="1.15" />
<path d="M563.6 226.8C565 225.7 568.5 222 572 220.4C575.5 218.8 579.1 216.6 584.8 217C590.5 217.4 598.5 218.3 606.4 222.6C614.3 226.9 625.8 234.8 632.3 242.9C638.8 251 642.5 262 645.3 271C648 280 648.8 288.7 648.8 297C648.8 305.3 647.6 315.1 645.5 320.9C643.4 326.7 639.4 329.1 636.4 331.8C633.4 334.5 628.8 336.4 627.3 337.3" fill="none" stroke="#1a1a1a" stroke-width="1.15" />
<path d="M544.5 271.8L539 269L539 288L545 291" fill="none" stroke="#1a1a1a" stroke-width="1.15" />
<path d="M560.4 171.6C560.8 166.9 563.3 162.6 566 160C568.7 157.4 573.5 156.2 576.8 156.2C580.1 156.2 583.3 157.8 586 160C588.7 162.2 590.6 165.2 593.1 169.5C595.6 173.8 598.9 181.8 601.3 185.9C603.7 190 604.1 192.7 607.5 194C610.9 195.3 617.9 193.1 621.8 194C625.7 194.9 628.3 197.3 631 199.4C633.7 201.5 635.6 202.4 638.1 206.3C640.6 210.2 644.9 218.2 646.3 222.7C647.7 227.1 646.7 230.2 646.5 233C646.3 235.8 646.8 237.1 645.2 239.3C643.6 241.6 639.7 245.1 637 246.5C634.3 247.9 631.6 248.3 628.9 247.5C626.2 246.7 623.8 244.5 620.7 241.4C617.6 238.3 613.1 232.8 610.5 229.1C607.9 225.4 606.3 221.8 604.8 219C603.3 216.2 603.1 214.3 601.5 212.5C599.9 210.7 598 209.1 595.2 208.4C592.5 207.7 588.8 209.8 585 208.4C581.2 207 576.3 203.6 572.7 200.2C569.1 196.8 565.5 192.7 563.5 187.9C561.5 183.1 560 176.2 560.4 171.6Z" fill="#ffffff" stroke="#1a1a1a" stroke-width="4.2" />
<path d="M560.4 171.6C560.8 166.9 563.3 162.6 566 160C568.7 157.4 573.5 156.2 576.8 156.2C580.1 156.2 583.3 157.8 586 160C588.7 162.2 590.6 165.2 593.1 169.5C595.6 173.8 598.9 181.8 601.3 185.9C603.7 190 604.1 192.7 607.5 194C610.9 195.3 617.9 193.1 621.8 194C625.7 194.9 628.3 197.3 631 199.4C633.7 201.5 635.6 202.4 638.1 206.3C640.6 210.2 644.9 218.2 646.3 222.7C647.7 227.1 646.7 230.2 646.5 233C646.3 235.8 646.8 237.1 645.2 239.3C643.6 241.6 639.7 245.1 637 246.5C634.3 247.9 631.6 248.3 628.9 247.5C626.2 246.7 623.8 244.5 620.7 241.4C617.6 238.3 613.1 232.8 610.5 229.1C607.9 225.4 606.3 221.8 604.8 219C603.3 216.2 603.1 214.3 601.5 212.5C599.9 210.7 598 209.1 595.2 208.4C592.5 207.7 588.8 209.8 585 208.4C581.2 207 576.3 203.6 572.7 200.2C569.1 196.8 565.5 192.7 563.5 187.9C561.5 183.1 560 176.2 560.4 171.6Z" fill="none" stroke="#ffffff" stroke-width="1.9" />
<ellipse cx="582" cy="184" rx="23.8" ry="12" transform="rotate(58 582 184)" fill="none" stroke="#1a1a1a" stroke-width="1.15"/>
<ellipse cx="582" cy="184" rx="21" ry="10.3" transform="rotate(58 582 184)" fill="none" stroke="#1a1a1a" stroke-width="1.15"/>
<ellipse cx="625.5" cy="221.5" rx="23.8" ry="12" transform="rotate(58 625.5 221.5)" fill="none" stroke="#1a1a1a" stroke-width="1.15"/>
<ellipse cx="625.5" cy="221.5" rx="21" ry="10.3" transform="rotate(58 625.5 221.5)" fill="none" stroke="#1a1a1a" stroke-width="1.15"/>
<path d="M670.4 212.3L742.2 169.5L745 173.6L745 191.3L670.4 232.7Z" fill="#ffffff" stroke="#1a1a1a" stroke-width="1.8" />
<path d="M651.3 201.4L670.4 212.3" fill="none" stroke="#1a1a1a" stroke-width="1.8" />
<path d="M652.7 221.8L670.4 232.7" fill="none" stroke="#1a1a1a" stroke-width="1.8" />
<path d="M653.6 203.5L670 213.5L741 171.5" fill="none" stroke="#1a1a1a" stroke-width="1.15" />
<ellipse cx="675.9" cy="220.4" rx="3.2" ry="4.8" transform="rotate(25 675.9 220.4)" fill="none" stroke="#1a1a1a" stroke-width="1.15"/>
<ellipse cx="738.7" cy="183.1" rx="3.2" ry="4.8" transform="rotate(25 738.7 183.1)" fill="none" stroke="#1a1a1a" stroke-width="1.15"/>
<path d="M742.2 162.7L742.2 169.5" fill="none" stroke="#1a1a1a" stroke-width="1.8" />
<path d="M744 191L744 305" fill="none" stroke="#1a1a1a" stroke-width="1.8" />
<path d="M701.8 216.4L701.8 327" fill="none" stroke="#1a1a1a" stroke-width="1.8" />
<path d="M708.6 212L708.6 324.5" fill="none" stroke="#1a1a1a" stroke-width="1.8" />
<path d="M654.5 310L652.7 300L652.7 250A16.35 16.35 0 0 1 685.4 250L685.4 300L684.5 310" fill="none" stroke="#1a1a1a" stroke-width="1.15" />
<path d="M654.5 310C654.8 312.4 655 319.9 656.4 324.5C657.8 329.1 660.4 333.8 662.7 337.3C665 340.8 668.8 344.1 670 345.5" fill="none" stroke="#1a1a1a" stroke-width="1.15" />
<path d="M684.5 310C684.2 312.7 684.1 321.5 682.7 326.4C681.4 331.2 678.5 335.9 676.4 339.1C674.3 342.3 671.1 344.4 670 345.5" fill="none" stroke="#1a1a1a" stroke-width="1.15" />
<path d="M652 236.6C651.9 236.6 651.7 236.6 651.6 236.5C651.5 236.5 651.3 236.4 651.2 236.4C651.1 236.3 650.9 236.2 650.8 236.2C650.7 236.1 650.6 236 650.5 235.9C650.3 235.8 650.2 235.7 650.1 235.6C650 235.5 649.9 235.4 649.8 235.3C649.7 235.2 649.6 235.1 649.5 234.9C649.4 234.8 649.4 234.7 649.3 234.6C649.2 234.4 649.2 234.3 649.1 234.1C649 234 649 233.8 648.9 233.7C648.9 233.6 648.8 233.4 648.8 233.2C648.8 233.1 648.8 232.9 648.7 232.8C648.7 232.6 648.7 232.5 648.7 232.3C648.7 232.1 648.7 232 648.7 231.8C648.7 231.7 648.7 231.5 648.8 231.4C648.8 231.2 648.8 231 648.9 230.9C648.9 230.7 649 230.6 649 230.4C649.1 230.3 649.1 230.2 649.2 230C649.3 229.9 649.3 229.7 649.4 229.6C649.5 229.5 649.6 229.4 649.7 229.2C649.8 229.1 649.9 229 650 228.9C650.1 228.8 650.2 228.7 650.3 228.6C650.4 228.5 650.5 228.4 650.7 228.3C650.8 228.3 650.9 228.2 651 228.1C651.2 228 651.3 228 651.4 227.9C651.6 227.9 651.7 227.8 651.8 227.8C652 227.8 652.1 227.7 652.2 227.7C652.4 227.7 652.5 227.7 652.7 227.7C652.8 227.7 652.9 227.7 653.1 227.7C653.2 227.7 653.4 227.8 653.5 227.8C653.6 227.8 653.8 227.9 653.9 227.9C654 228 654.2 228 654.3 228.1C654.4 228.1 654.6 228.2 654.7 228.3C654.8 228.4 654.9 228.5 655 228.5C655.2 228.6 655.3 228.7 655.4 228.8C655.5 229 655.6 229.1 655.7 229.2C655.8 229.3 655.9 229.4 655.9 229.6C656 229.7 656.1 229.9 656.2 229.9" fill="none" stroke="#1a1a1a" stroke-width="1.15" />
<path d="M708.6 324.5L744.5 304.5L745.8 307.7L745.8 324.5L671 367L671 349" fill="none" stroke="#1a1a1a" stroke-width="1.8" />
<path d="M671 349L744.5 306.8" fill="none" stroke="#1a1a1a" stroke-width="1.8" />
<path d="M671 349L671 368" fill="none" stroke="#1a1a1a" stroke-width="1.8" />
<path d="M653.1 357C653.1 354.7 652.7 346.2 653.1 343C653.5 339.8 654.1 339 655.5 338C656.9 337 659.4 336.3 661.3 337C663.2 337.7 665.4 340 667 342C668.6 344 670.3 347.8 671 349" fill="none" stroke="#1a1a1a" stroke-width="1.8" />
<path d="M653.1 357L671 368" fill="none" stroke="#1a1a1a" stroke-width="1.8" />
<ellipse cx="676.3" cy="355.3" rx="3.2" ry="4.8" transform="rotate(25 676.3 355.3)" fill="none" stroke="#1a1a1a" stroke-width="1.15"/>
<ellipse cx="739" cy="319" rx="3.2" ry="4.8" transform="rotate(25 739 319)" fill="none" stroke="#1a1a1a" stroke-width="1.15"/>
<path d="M623.6 352.7L670 380.2L739 341L739 329" fill="none" stroke="#1a1a1a" stroke-width="1.8" />
<path d="M625.5 348.2L670 372.7L739 333.5" fill="none" stroke="#1a1a1a" stroke-width="1.15" />
<path d="M625 350.6L670 376.4L739 337.3" fill="none" stroke="#1a1a1a" stroke-width="1.035" />
<path d="M670 368L670 380.2" fill="none" stroke="#1a1a1a" stroke-width="1.15" />
<path d="M625.5 337L625.5 348.2" fill="none" stroke="#1a1a1a" stroke-width="1.15" />
<ellipse cx="590.6" cy="285.9" rx="40.4" ry="19.4" transform="rotate(57 590.6 285.9)" fill="none" stroke="#1a1a1a" stroke-width="1.15"/>
<ellipse cx="590.6" cy="285.9" rx="26.4" ry="12.7" transform="rotate(57 590.6 285.9)" fill="none" stroke="#1a1a1a" stroke-width="1.15"/>
<ellipse cx="589.5" cy="286.5" rx="23" ry="11" transform="rotate(57 589.5 286.5)" fill="none" stroke="#1a1a1a" stroke-width="1.15"/>
<path d="M526.8 299L575.9 270.8L577.8 270L580 270L582.5 270.6L585.2 271.9L587.9 273.8L590.7 276.2L593.2 279.1L595.6 282.3L597.6 285.8L599.2 289.3L600.3 292.8L600.9 296.1L601 299L600.5 301.6L599.6 303.6L598.1 305L545.9 334.5Z" fill="#ffffff" stroke="#ffffff" stroke-width="0.1" />
<path d="M526.8 299L575.9 270.8" fill="none" stroke="#1a1a1a" stroke-width="1.8" />
<path d="M545.9 334.5L598.1 305" fill="none" stroke="#1a1a1a" stroke-width="1.8" />
<path d="M575.9 270.8C576.2 270.7 577.1 270.2 577.8 270C578.5 269.9 579.2 269.9 580 270C580.8 270.1 581.7 270.3 582.5 270.6C583.4 270.9 584.3 271.3 585.2 271.9C586.1 272.4 587 273.1 587.9 273.8C588.8 274.5 589.8 275.3 590.7 276.2C591.5 277.1 592.4 278.1 593.2 279.1C594 280.1 594.8 281.2 595.6 282.3C596.3 283.5 597 284.6 597.6 285.8C598.2 287 598.7 288.1 599.2 289.3C599.6 290.5 600 291.7 600.3 292.8C600.6 293.9 600.8 295 600.9 296.1C601 297.1 601.1 298.1 601 299C600.9 300 600.8 300.8 600.5 301.6C600.3 302.3 600 303 599.6 303.6C599.2 304.2 598.4 304.8 598.1 305" fill="none" stroke="#1a1a1a" stroke-width="1.4" />
<ellipse cx="535.5" cy="316.8" rx="20.2" ry="10.6" transform="rotate(57 535.5 316.8)" fill="#ffffff" stroke="#1a1a1a" stroke-width="1.8"/>
<path d="M543.5 299C544.2 300.5 547.1 304.4 548 308C548.9 311.6 549.1 317 548.6 320.8C548.1 324.6 545.6 329.3 545 331" fill="none" stroke="#1a1a1a" stroke-width="1.15" />
<path d="M545 294.3L566.5 283.4" fill="none" stroke="#1a1a1a" stroke-width="3.6" />
<path d="M545 294.3L566.5 283.4" fill="none" stroke="#ffffff" stroke-width="1.5" />
<path d="M234.8 385.7C233.5 384.9 229.9 383.3 227.3 380.9C224.7 378.5 221.4 375.4 219 371.3C216.6 367.2 214.4 361.6 213 356.4C211.6 351.2 211 344.4 210.6 340C210.2 335.6 209.8 335.6 210.4 330C211 324.4 212.5 312.9 213.9 306.1C215.3 299.3 217 294.8 219 289.1C221 283.4 223.2 277.6 225.8 272C228.4 266.4 231.7 259.9 234.3 255.4C236.9 250.9 238.8 248.6 241.5 245.2C244.2 241.8 246.3 239.5 250.7 235C255.1 230.5 262.4 222.9 268.1 218.1C273.9 213.3 279.9 209.3 285.2 206.2C290.5 203.1 295.8 200.9 300 199.4C304.2 197.9 306.6 197 310.7 197C314.8 197 319.8 198.2 324.3 199.6C328.8 201 333.9 202.9 337.9 205.6C341.9 208.3 345.3 211.7 348.1 215.8C350.9 219.9 353 225.4 354.5 230C356 234.6 356.8 239 357.3 243.6C357.8 248.2 357.6 253 357.3 257.3C357 261.6 356 267.5 355.7 269.5L363.2 268.2L344.1 289.7L337.3 275.7L346 270.9C346.2 268.6 347.4 261.4 347.5 257.3C347.6 253.2 347.2 251 346.5 246.4C345.8 241.8 344.1 234 343 230C341.9 226 341.6 225.4 339.6 222.6C337.6 219.8 334.2 215.5 331.1 213.2C328 210.9 324.9 209.7 320.9 209C316.9 208.3 311.9 208.3 307.3 209C302.8 209.7 298.2 211.1 293.6 213.2C289.1 215.3 284.9 217.8 280 221.7C275.1 225.6 268.4 232.9 264.5 236.8C260.6 240.7 259.3 242.1 256.8 245.2C254.3 248.3 251.8 252 249.6 255.4C247.4 258.8 245.3 262.6 243.5 265.7C241.7 268.8 241.1 270.1 239 274C236.9 277.9 233.1 283.8 230.9 289.1C228.7 294.5 227.1 299.3 225.8 306.1C224.5 312.9 223.6 324.4 223.2 330C222.8 335.6 222.9 336.5 223.2 340C223.5 343.5 223.9 347.5 225.2 350.9C226.4 354.3 228.1 357.1 230.7 360.4C233.3 363.7 239.2 369 240.9 370.7L247.4 361.5L257.2 385L231.6 393.4Z" fill="#222222" stroke="#222222" stroke-width="0.6" />
<path d="M482.7 273.9C482.4 272.2 481.2 267.6 480.7 263.6C480.2 259.6 479.5 254.3 479.6 250C479.7 245.7 480.5 242 481.5 238C482.5 234 483.2 230.4 485.6 225.8C488 221.2 491.6 214.4 495.8 210.4C500.1 206.4 506.3 203.6 511.1 201.9C515.9 200.2 519.9 200 524.7 200.2C529.5 200.3 534.7 201 540.1 202.8C545.5 204.6 551.3 207.4 557 211.2C562.7 215 569 220.4 574.1 225.7C579.2 230.9 583.7 237.3 587.7 242.7C591.7 248.1 595.3 254.3 597.9 258C600.5 261.7 600.8 261 603.2 265C605.7 269 609.8 276.3 612.6 282C615.5 287.7 618.3 293.4 620.3 299.1C622.3 304.8 623.5 310.1 624.5 316.1C625.5 322.1 625.8 329.9 626 335C626.2 340.1 626.4 342.1 625.6 347C624.8 351.9 623.7 358.4 621.3 364.1C618.9 369.8 614.5 376.9 611.1 381.1C607.7 385.4 602.6 388.2 600.9 389.6L605.1 396.4L579.1 387.1L589.3 364.9L593.2 374.6C594.3 373.8 597.6 372.3 600 370C602.4 367.7 605.6 364.5 607.7 360.7C609.8 356.9 611.7 351.3 612.8 347C613.9 342.7 614.4 340.1 614.4 335C614.4 329.9 613.8 322.1 612.6 316.1C611.5 310.1 609.6 304.8 607.5 299.1C605.4 293.4 602.8 287.7 599.8 282C596.8 276.3 593 270.1 589.6 265C586.2 259.9 582.9 256.1 579.2 251.2C575.5 246.3 571.6 240.6 567.3 235.9C563 231.2 557.3 226.5 553.6 223.1C549.9 219.7 548.9 217.6 545.2 215.6C541.5 213.6 536.2 212 531.6 211.3C527 210.6 522.2 210.3 517.9 211.3C513.6 212.3 509.6 214.3 506 217.3C502.4 220.3 498.8 225.4 496.6 229.2C494.4 233 493.7 236.5 492.8 240C491.9 243.5 491.4 246.1 491.2 250C491 253.9 491.2 259.1 491.6 263.6C492 268.2 493 275 493.3 277.3L499.3 278.6L492 292.9L472.9 271.1Z" fill="#222222" stroke="#222222" stroke-width="0.6" />
<text transform="translate(6 160.2) scale(0.97 1)" font-size="58.5">B</text>
<text transform="translate(301.4 348) scale(1.04 1)" font-size="58.5">A</text>
<text transform="translate(347.9 315.2) scale(0.94 1)" font-size="37">CW</text>
<text transform="translate(223.5 435) scale(0.95 1)" font-size="37">CCW</text>
<text transform="translate(418.5 323.8) scale(0.945 1)" font-size="37">CCW</text>
<text transform="translate(514.5 399.5) scale(0.94 1)" font-size="37">CW</text>
</svg>
</body></html>
